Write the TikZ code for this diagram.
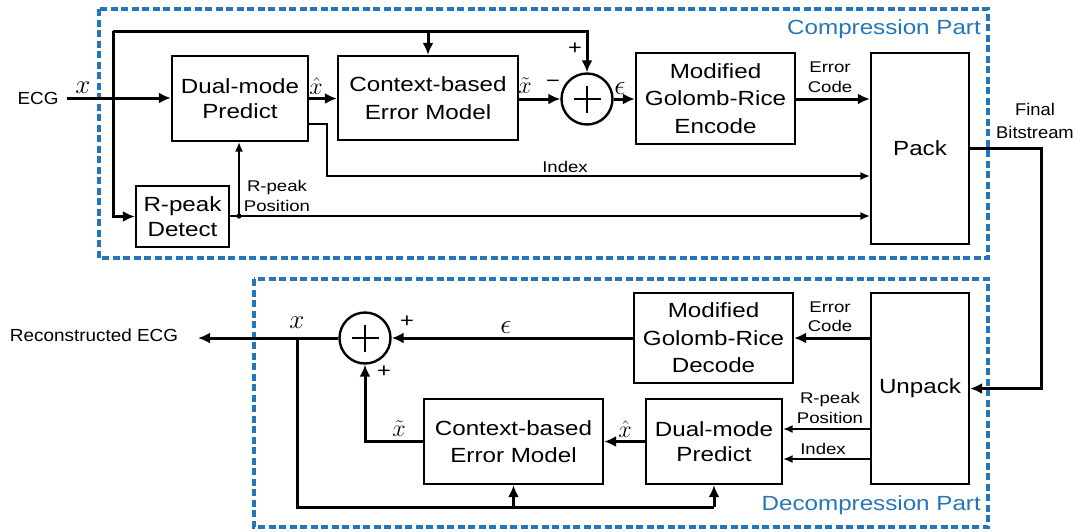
\RequirePackage{fix-cm}
\documentclass[tikz,border=0pt]{standalone}
\usepackage{fontspec}
\usetikzlibrary{arrows.meta,calc}
\newfontfamily\blockfont[FakeStretch=1.18]{Liberation Sans}
\newfontfamily\tagfont[FakeStretch=1.2]{Liberation Sans}
\newfontfamily\ecgfont[FakeStretch=1.08]{Liberation Sans}
\definecolor{partblue}{RGB}{36,118,185}

\begin{document}
\begin{tikzpicture}[x=1pt,y=-1pt,
  blk/.style={draw, line width=2.3pt, inner sep=0pt, align=center,
    font=\blockfont\fontsize{20.5}{27.5}\selectfont},
  dualblk/.style={blk, font=\blockfont\fontsize{20.5}{25}\selectfont},
  sumnode/.style={circle, draw, line width=2.4pt, inner sep=0pt, minimum size=51pt},
  bus/.style={line width=3pt, -{Latex[length=12pt,width=11pt]}},
  busplain/.style={line width=3pt},
  sig/.style={line width=1.5pt, -{Latex[length=9.5pt,width=8pt]}},
  tag/.style={inner sep=0pt, align=center, font=\tagfont\fontsize{15.5}{19.5}\selectfont},
  sym/.style={inner sep=0pt, font=\fontsize{24}{24}\selectfont},
  epsym/.style={inner sep=0pt, font=\fontsize{28}{28}\selectfont},
  bigsym/.style={inner sep=0pt, font=\fontsize{27}{27}\selectfont},
  pm/.style={inner sep=0pt, font=\blockfont\fontsize{20}{20}\selectfont},
  ecg/.style={inner sep=0pt, font=\ecgfont\fontsize{17.5}{20}\selectfont},
  part/.style={draw=partblue, line width=3.2pt, dash pattern=on 7pt off 3.5pt},
  parttitle/.style={inner sep=0pt, text=partblue, font=\blockfont\fontsize{20.5}{24}\selectfont},
]
\useasboundingbox (0,0) rectangle (1081,531);

% dashed frames of the two parts
\draw[part] (99,9) rectangle (988,258);
\draw[part] (254,279) rectangle (988,527);
\node[parttitle, anchor=east] (ctitle) at (981,29) {Compression Part};
\node[parttitle, anchor=east] (dtitle) at (981,505) {Decompression Part};

% ---------------- compression blocks ----------------
\node[dualblk, minimum width=136pt, minimum height=85pt] (dualT) at (240,98.5) {Dual-mode\\Predict};
\node[blk, minimum width=180pt, minimum height=84pt] (ctxT) at (428,98) {Context-based\\Error Model};
\node[sumnode] (sumT) at (587,99) {};
\node[blk, minimum width=159pt, minimum height=91pt] (encT) at (715.5,98.5) {Modified\\Golomb-Rice\\Encode};
\node[blk, minimum width=98pt, minimum height=191pt] (pack) at (920,148.5) {Pack};
\node[dualblk, minimum width=93pt, minimum height=61pt] (detect) at (182.5,216.5) {R-peak\\Detect};

% ---------------- decompression blocks ----------------
\node[blk, minimum width=98pt, minimum height=191pt] (unpack) at (920,388.5) {Unpack};
\node[blk, minimum width=159pt, minimum height=90pt] (dec) at (713.5,338) {Modified\\Golomb-Rice\\Decode};
\node[dualblk, minimum width=136pt, minimum height=85pt] (dualB) at (714,441.5) {Dual-mode\\Predict};
\node[blk, minimum width=179pt, minimum height=85pt] (ctxB) at (513.5,441.5) {Context-based\\Error Model};
\node[sumnode] (sumB) at (365,338) {};

% plus signs inside the adders
\foreach \s in {sumT,sumB}{
  \draw[line width=2pt] (\s.center) ++(-13.5,0) -- ++(27,0);
  \draw[line width=2pt] (\s.center) ++(0,-13.5) -- ++(0,27);
}

% ---------------- compression wiring ----------------
\node[ecg] (ecgtxt) at (38,98) {ECG};
\coordinate (ecgIn) at (67,98);
\coordinate (split) at (113,98);
\coordinate (topRow) at (113,31);
\draw[bus] (ecgIn) -- (dualT.west |- ecgIn);
\draw[busplain] (split) -- (topRow);
\draw[bus] (topRow) -| (sumT.north);
\draw[bus] (ctxT.north |- topRow) -- (ctxT.north);
\draw[bus] (split) |- (detect.west);
\draw[bus] (dualT.east) -- (ctxT.west |- dualT.east);
\draw[bus] (ctxT.east |- sumT.west) -- (sumT.west);
\draw[bus] (sumT.east) -- (encT.west |- sumT.east);
\draw[bus] (encT.east |- sumT.east) -- (pack.west |- sumT.east);

% index path
\coordinate (idxOut) at (308,124);
\coordinate (idxBend) at (327,124);
\coordinate (idxRow) at (327,176);
\draw[sig] (idxOut) -- (idxBend) -- (idxRow) -- (pack.west |- idxRow);
% R-peak position path
\coordinate (rpOut) at (229,216);
\coordinate (rpTap) at (239,216);
\draw[sig] (rpOut) -- (pack.west |- rpOut);
\draw[sig] (rpTap) -- (rpTap |- dualT.south);
\fill (rpTap) circle (2.6pt);

% final bitstream
\coordinate (bitR) at (1041,148.5);
\draw[bus] (pack.east) -- (bitR) |- (unpack.east);

% compression labels
\node[bigsym] (xin) at (83,88) {$x$};
\node[sym] (xhatT) at (316,86) {$\hat{x}$};
\node[sym] (xtilT) at (525,86) {$\tilde{x}$};
\node[pm] (minusT) at (553,84) {−};
\node[pm] (plusT) at (575,49) {+};
\node[epsym] (epsT) at (620,88) {$\epsilon$};
\node[tag] (ecodeT) at (830,77) {Error\\Code};
\node[tag] (idxT) at (565,167) {Index};
\node[tag] (rposT) at (277,196) {R-peak\\Position};
\node[tag, font=\ecgfont\fontsize{17}{22.5}\selectfont] (bits) at (1035,121) {Final\\Bitstream};

% ---------------- decompression wiring ----------------
\draw[bus] (unpack.west |- dec.east) -- (dec.east);
\draw[bus] (dec.west) -- (sumB.east);
\coordinate (rpIn) at (871,429);
\coordinate (idxIn) at (871,459);
\draw[sig] (rpIn) -- (dualB.east |- rpIn);
\draw[sig] (idxIn) -- (dualB.east |- idxIn);
\draw[bus] (dualB.west |- ctxB.east) -- (ctxB.east);
\draw[bus] (ctxB.west) -| (sumB.south);
\coordinate (recOut) at (198,338);
\draw[bus] (sumB.west) -- (recOut);
\coordinate (fbTap) at (297,338);
\coordinate (fbLow) at (297,507);
\draw[busplain] (fbTap) -- (fbLow) -- (dualB.south |- fbLow);
\draw[bus] (dualB.south |- fbLow) -- (dualB.south);
\draw[bus] (ctxB.south |- fbLow) -- (ctxB.south);

% decompression labels
\node[ecg, font=\ecgfont\fontsize{17.5}{20}\selectfont] (rectxt) at (94,335) {Reconstructed ECG};
\node[bigsym] (xout) at (297,323) {$x$};
\node[pm] (plusB1) at (407,322) {+};
\node[pm] (plusB2) at (384,372) {+};
\node[epsym] (epsB) at (506,327) {$\epsilon$};
\node[sym] (xhatB) at (625,429) {$\hat{x}$};
\node[sym] (xtilB) at (399,429) {$\tilde{x}$};
\node[tag] (ecodeB) at (830,316.5) {Error\\Code};
\node[tag] (rposB) at (830,408) {R-peak\\Position};
\node[tag] (idxB) at (823,449) {Index};
\end{tikzpicture}
\end{document}
